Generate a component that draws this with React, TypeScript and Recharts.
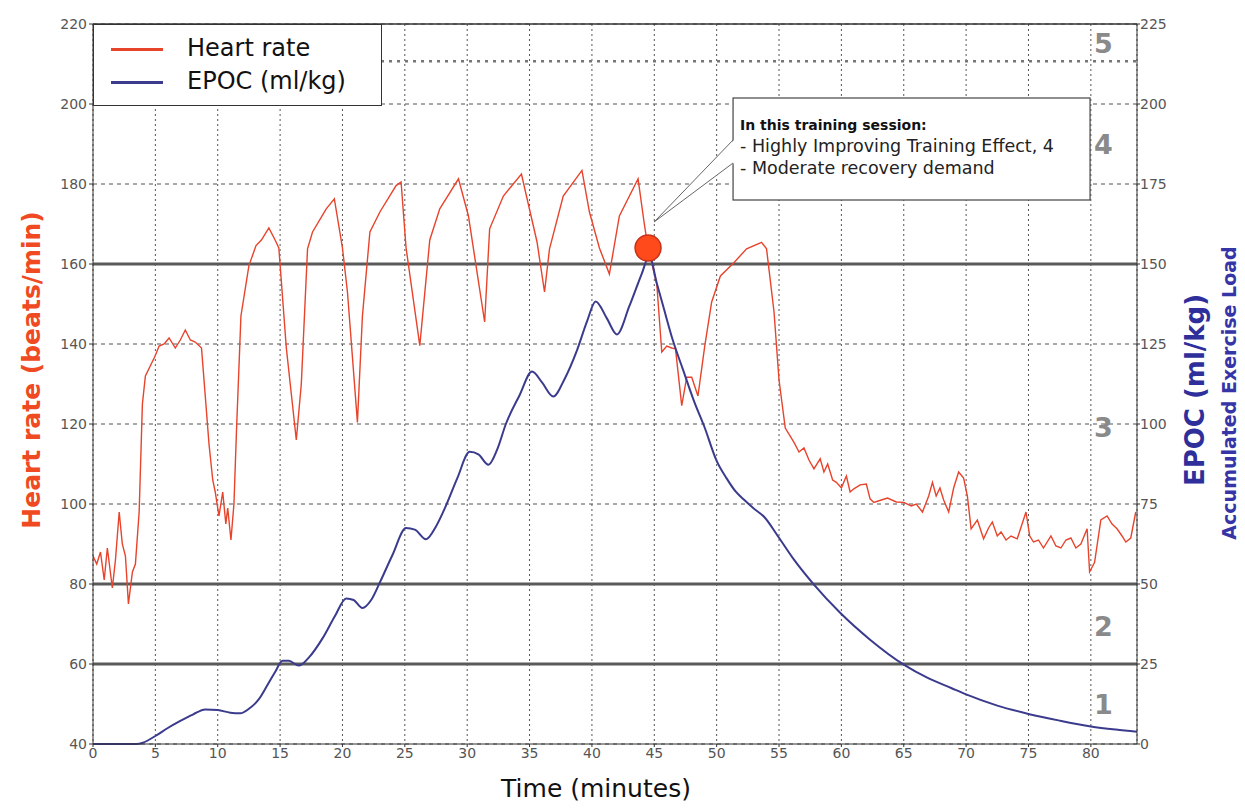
import React from 'react';
import { LineChart, Line, XAxis, YAxis, CartesianGrid, ReferenceLine, ReferenceDot, Legend } from 'recharts';

// heart rate samples (minutes, beats/min)
const hrTimes = [
  0, 0.3, 0.6, 0.9, 1.15, 1.55, 1.8, 2.1, 2.35, 2.6, 2.84, 3.16, 3.4, 3.7, 3.96, 4.2, 4.98, 5.3, 5.7, 6.1,
  6.6, 7.0, 7.4, 7.8, 8.2, 8.7, 8.9, 9.3, 9.6, 9.8, 10.1, 10.4, 10.65, 10.8, 11.06, 11.3, 11.5, 11.86, 12.5, 13.07,
  13.5, 14.1, 14.6, 14.9, 15.5, 16.3, 16.7, 17.2, 17.6, 18.7, 19.35, 20.0, 20.4, 21.2, 21.6, 22.2, 23.0, 24.3, 24.7, 25.1,
  26.2, 27.0, 27.8, 29.3, 30.1, 31.4, 31.8, 32.9, 34.35, 34.75, 35.6, 36.2, 36.6, 37.7, 39.2, 39.8, 40.6, 41.4, 42.2, 43.7,
  44.2, 44.5, 45.2, 45.6, 46.0, 46.4, 46.7, 47.2, 47.6, 48.0, 48.5, 49.05, 49.6, 50.3, 51.4, 52.4, 53.6, 54.0, 54.6, 55.0,
  55.5, 56.2, 56.6, 57.0, 57.4, 57.8, 58.3, 58.6, 58.9, 59.3, 59.6, 60.0, 60.4, 60.7, 61.0, 61.5, 62.0, 62.3, 62.6, 63.2,
  63.7, 64.4, 65.0, 65.6, 66.0, 66.5, 67.0, 67.3, 67.6, 67.9, 68.2, 68.6, 69.0, 69.4, 69.8, 70.1, 70.4, 70.9, 71.4, 71.8,
  72.1, 72.5, 72.8, 73.2, 73.6, 74.1, 74.8, 75.1, 75.4, 75.8, 76.2, 76.8, 77.2, 77.6, 78.0, 78.4, 78.8, 79.2, 79.7, 79.9,
  80.3, 80.8, 81.3, 81.7, 82.1, 82.5, 82.8, 83.2, 83.6,
];
const hrValues = [
  87, 85, 88, 81, 89, 79, 86, 98, 90, 87, 75, 83, 85, 98, 125, 132, 137, 139.5, 140, 141.5,
  139, 141, 143.5, 141, 140.5, 139, 131, 115, 106, 103, 97, 103, 95, 99, 91, 100, 118, 147, 159.6, 164.6,
  166, 169, 166, 164, 139, 116, 130, 163.8, 168, 173.8, 176.3, 164, 153, 120.4, 147, 168, 173, 179.6, 180.5, 164,
  139.6, 166, 173.8, 181.3, 172, 145.5, 168.8, 177, 182.5, 177, 165.5, 153, 163.8, 177, 183.4, 173, 164, 157.5, 172, 181.3,
  170, 164, 155, 138, 139.5, 139, 138.8, 124.6, 131.7, 131.7, 127, 139.6, 150.5, 157, 160.4, 163.8, 165.4, 163.8, 148, 131,
  119, 115.4, 113, 114, 111, 108.8, 111.3, 108, 110, 106, 105.4, 104, 107, 103, 103.8, 104.8, 105, 101.3, 100.4, 101,
  101.5, 100.5, 100.4, 99.5, 100, 98, 102, 105.4, 102, 104, 101, 98, 104, 108, 106.5, 102, 93.8, 96, 91.3, 94,
  95.5, 92, 93, 91, 92, 91.3, 98, 92, 90.5, 91, 89, 92, 89.5, 89, 91, 91.5, 89, 90, 93.8, 83,
  85.4, 96, 97, 95, 93.8, 92, 90.5, 91.5, 98,
];

// EPOC samples (minutes, ml/kg)
const epocTimes = [
  0, 3.5, 4, 5, 6, 7, 8, 9, 10, 11, 11.8, 12.5, 13.3, 14, 14.6, 15.2, 15.7, 16.5, 17.3, 18.4,
  19.4, 20.3, 20.9, 21.6, 22.3, 23, 24, 25.1, 25.8, 26.7, 27.5, 28.3, 29.2, 30.2, 30.9, 31.7, 32.4, 33.1, 34.2, 35.2,
  36, 36.9, 37.8, 38.8, 39.6, 40.3, 41.2, 42, 43, 44, 44.6, 45.2, 45.7, 46.5, 47.3, 48.2, 49, 50, 50.8, 51.5,
  52.2, 53, 53.8, 54.9, 56.2, 57.8, 59.9, 62.3, 65, 67, 68.8, 70, 72.5, 75, 77.5, 80, 82, 83.7,
];
const epocValues = [
  0, 0, 0.4, 2.5, 5, 7.2, 9.2, 10.8, 10.6, 9.8, 9.6, 11, 14, 18.5, 22.5, 26, 26, 24.5, 27, 33,
  40, 45.5, 45, 42.5, 45, 50.5, 59, 67.5, 67, 64, 68, 74.5, 83, 91.3, 90.5, 87.3, 92, 100, 109, 116.4,
  113, 108.6, 114, 123, 132, 138.3, 133, 128, 136.8, 147, 152.5, 144, 137, 126, 117, 107, 99.3, 88.5, 83, 79,
  76.3, 73.5, 71, 65, 57.6, 49.8, 41, 32.6, 24.8, 20.5, 17.5, 15.5, 12, 9.4, 7.3, 5.5, 4.5, 3.8,
];

const timeTicks = [0, 5, 10, 15, 20, 25, 30, 35, 40, 45, 50, 55, 60, 65, 70, 75, 80];
const hrTicks = [40, 60, 80, 100, 120, 140, 160, 180, 200, 220];
const epocTicks = [0, 25, 50, 75, 100, 125, 150, 175, 200, 225];

const seriesNames = ['Heart rate', 'EPOC (ml/kg)'];
const seriesColors = ['#e8432b', '#3b3b8e'];

// training effect zones (heart rate scale)
const zoneBorders = [60, 80, 160];
const zone5Border = 210.7;
const zoneNames = ['1', '2', '3', '4', '5'];
const zoneNameHr = [49.9, 69.4, 119.3, 190, 215.3];
const zoneNameTime = 81;

const peakTime = 44.5;
const peakHr = 164;
const noteTitle = 'In this training session:';
const noteLines = ['- Highly Improving Training Effect, 4', '- Moderate recovery demand'];

const hrData = hrTimes.map((t, i) => ({ t, hr: hrValues[i] }));
const epocData = epocTimes.map((t, i) => ({ t, epoc: epocValues[i] }));

const FONT = 'DejaVu Sans, Verdana, sans-serif';
const tickStyle = { fill: '#555', fontSize: 14, fontFamily: FONT };

const PeakMarker = (props: any) => {
  const { cx, cy } = props;
  const bx = cx + 85;
  const by = cy - 150;
  return (
    <g>
      <rect x={bx} y={by} width={357} height={102} fill="#fff" stroke="#444" strokeWidth={1.2} />
      <polygon points={`${cx + 6},${cy - 26} ${bx + 1},${cy - 108} ${bx + 1},${cy - 85}`} fill="#fff" stroke="none" />
      <line x1={cx + 6} y1={cy - 26} x2={bx} y2={cy - 108} stroke="#666" strokeWidth={1} />
      <line x1={cx + 6} y1={cy - 26} x2={bx} y2={cy - 85} stroke="#666" strokeWidth={1} />
      <text x={bx + 7} y={by + 32} fontFamily={FONT} fontSize={14} fontWeight="bold" fill="#111">{noteTitle}</text>
      {noteLines.map((s, i) => (
        <text key={s} x={bx + 7} y={by + 54 + i * 22} fontFamily={FONT} fontSize={17.5} fill="#222">{s}</text>
      ))}
      <circle cx={cx} cy={cy} r={13} fill="#ff4a1c" stroke="#c8321a" strokeWidth={1.5} />
    </g>
  );
};

const renderLegend = () => (
  <div style={{ width: 287, height: 80, border: '1.5px solid #333', background: '#fff', position: 'relative', fontFamily: FONT }}>
    {seriesNames.map((name, i) => (
      <div key={name} style={{ position: 'absolute', left: 0, top: 8 + i * 33, height: 32, width: 287 }}>
        <div style={{ position: 'absolute', left: 17, top: 15, width: 52, height: 3, background: seriesColors[i] }} />
        <div style={{ position: 'absolute', left: 93, top: 0, fontSize: 24, lineHeight: '30px', color: '#111', whiteSpace: 'nowrap' }}>{name}</div>
      </div>
    ))}
  </div>
);

export default function App() {
  return (
    <div style={{ position: 'absolute', left: 0, top: 0, width: 1245, height: 809, background: '#fff' }}>
      <LineChart width={1245} height={809} margin={{ top: 24, right: 68, bottom: 35, left: 53 }}>
        <CartesianGrid yAxisId="hr" vertical={false} stroke="#555" strokeDasharray="4 4" />
        <CartesianGrid yAxisId="hr" horizontal={false} stroke="#555" strokeDasharray="2 3" />
        <XAxis
          type="number"
          dataKey="t"
          domain={[0, 83.7]}
          ticks={timeTicks}
          allowDataOverflow
          height={30}
          tickSize={3}
          tickMargin={1}
          stroke="#333"
          tick={tickStyle}
        />
        <YAxis
          yAxisId="hr"
          domain={[40, 220]}
          ticks={hrTicks}
          width={40}
          tickSize={4}
          tickMargin={2}
          stroke="#333"
          tick={tickStyle}
        />
        <YAxis
          yAxisId="epoc"
          orientation="right"
          domain={[0, 225]}
          ticks={epocTicks}
          width={40}
          tickSize={3}
          tickMargin={0}
          stroke="#333"
          tick={tickStyle}
        />
        <ReferenceLine yAxisId="hr" y={220} stroke="#333" strokeWidth={1.5} />
        {zoneBorders.map((v) => (
          <ReferenceLine key={v} yAxisId="hr" y={v} stroke="#5a5a5a" strokeWidth={3} />
        ))}
        <ReferenceLine yAxisId="hr" y={zone5Border} stroke="#777" strokeWidth={2.5} strokeDasharray="3 5" />
        {zoneNames.map((n, i) => (
          <ReferenceDot
            key={n}
            yAxisId="hr"
            x={zoneNameTime}
            y={zoneNameHr[i]}
            r={0}
            shape={(p: any) => (
              <text x={p.cx} y={p.cy} dy="0.36em" textAnchor="middle" fontFamily={FONT} fontSize={27} fontWeight="bold" fill="#8a8a8a">{n}</text>
            )}
          />
        ))}
        <Line
          data={hrData}
          yAxisId="hr"
          dataKey="hr"
          name={seriesNames[0]}
          type="linear"
          stroke={seriesColors[0]}
          strokeWidth={1.4}
          dot={false}
          isAnimationActive={false}
        />
        <Line
          data={epocData}
          yAxisId="epoc"
          dataKey="epoc"
          name={seriesNames[1]}
          type="monotone"
          stroke={seriesColors[1]}
          strokeWidth={2}
          dot={false}
          isAnimationActive={false}
        />
        <ReferenceDot yAxisId="hr" x={peakTime} y={peakHr} r={13} shape={PeakMarker} zIndex={1500} />
        <Legend
          layout="horizontal"
          verticalAlign="middle"
          align="center"
          content={renderLegend}
          wrapperStyle={{ left: 93, top: 24, width: 289, height: 82 }}
        />
      </LineChart>
      <svg width={1245} height={809} style={{ position: 'absolute', left: 0, top: 0, pointerEvents: 'none' }}>
        <text transform="translate(31,370) rotate(-90)" textAnchor="middle" dominantBaseline="central" fontFamily={FONT} fontWeight="bold" fontSize={25} fill="#f04a23">Heart rate (beats/min)</text>
        <text transform="translate(1195,390) rotate(-90)" textAnchor="middle" dominantBaseline="central" fontFamily={FONT} fontWeight="bold" fontSize={26} fill="#2f2f9c">EPOC (ml/kg)</text>
        <text transform="translate(1229,393) rotate(-90)" textAnchor="middle" dominantBaseline="central" fontFamily={FONT} fontWeight="bold" fontSize={19} fill="#3535a8">Accumulated Exercise Load</text>
        <text x={596} y={797} textAnchor="middle" fontFamily={FONT} fontSize={25} fill="#111">Time (minutes)</text>
      </svg>
    </div>
  );
}
